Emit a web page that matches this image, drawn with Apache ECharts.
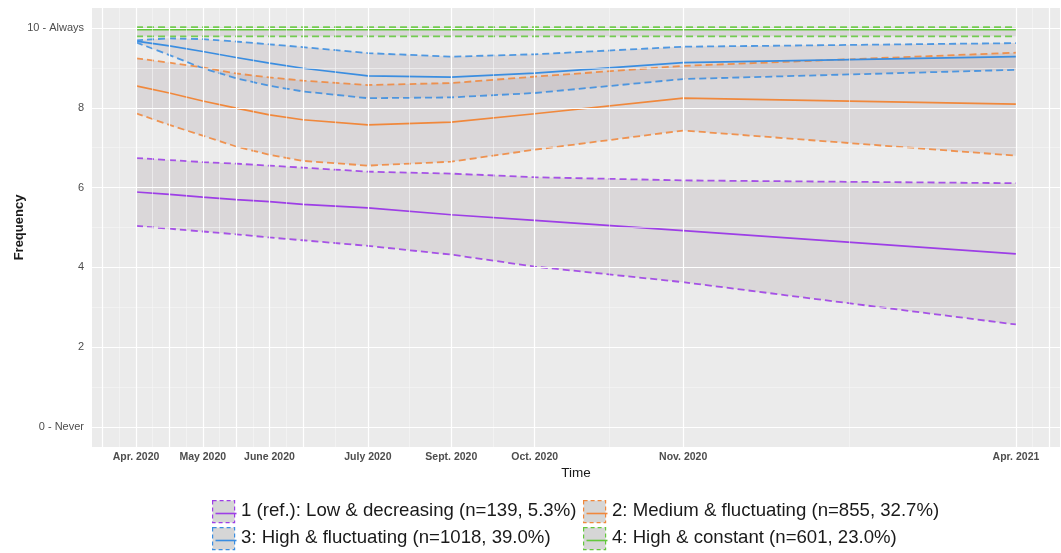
<!DOCTYPE html>
<html>
<head>
<meta charset="utf-8">
<script src="https://cdn.jsdelivr.net/npm/echarts@6/dist/echarts.min.js"></script>
<style>
html,body{margin:0;padding:0;background:#fff;}
#chart{width:1061px;height:553px;}
</style>
</head>
<body>
<div id="chart"></div>
<script>
// ---- data ----
const timePos = [0, 2, 4, 6, 8, 10, 13.9, 18.9, 23.9, 32.8, 52.75];
const timeLabels = ['Apr. 2020', '', 'May 2020', '', 'June 2020', '', 'July 2020', 'Sept. 2020', 'Oct. 2020', 'Nov. 2020', 'Apr. 2021'];
const yTickValues = [0, 2, 4, 6, 8, 10];
const yTickLabels = ['0 - Never', '2', '4', '6', '8', '10 - Always'];

const groupNames = [
  '1 (ref.): Low & decreasing (n=139, 5.3%)',
  '2: Medium & fluctuating (n=855, 32.7%)',
  '3: High & fluctuating (n=1018, 39.0%)',
  '4: High & constant (n=601, 23.0%)'
];
const groupColors = ['#9d3ee6', '#f0883c', '#3a8de0', '#63c73c'];

const g1Mean  = [5.89, 5.83, 5.76, 5.70, 5.65, 5.58, 5.49, 5.32, 5.18, 4.92, 4.34];
const g1Lower = [5.04, 4.97, 4.90, 4.83, 4.75, 4.68, 4.54, 4.32, 4.02, 3.63, 2.57];
const g1Upper = [6.74, 6.69, 6.64, 6.60, 6.55, 6.50, 6.40, 6.35, 6.26, 6.18, 6.11];

const g2Mean  = [8.55, 8.37, 8.17, 7.99, 7.82, 7.70, 7.57, 7.64, 7.85, 8.24, 8.09];
const g2Lower = [7.86, 7.57, 7.30, 7.03, 6.82, 6.67, 6.55, 6.65, 6.95, 7.43, 6.80];
const g2Upper = [9.24, 9.13, 9.01, 8.86, 8.76, 8.68, 8.57, 8.62, 8.78, 9.05, 9.38];

const g3Mean  = [9.67, 9.55, 9.41, 9.26, 9.12, 8.99, 8.80, 8.77, 8.87, 9.13, 9.28];
const g3Lower = [9.64, 9.32, 8.99, 8.74, 8.55, 8.41, 8.24, 8.26, 8.37, 8.72, 8.95];
const g3Upper = [9.69, 9.74, 9.72, 9.66, 9.59, 9.52, 9.37, 9.28, 9.34, 9.53, 9.62];

const g4Mean  = [9.96, 9.96, 9.96, 9.96, 9.96, 9.96, 9.96, 9.96, 9.96, 9.96, 9.96];
const g4Lower = [9.79, 9.79, 9.79, 9.79, 9.79, 9.79, 9.79, 9.79, 9.79, 9.79, 9.79];
const g4Upper = [10.02, 10.02, 10.02, 10.02, 10.02, 10.02, 10.02, 10.02, 10.02, 10.02, 10.02];

const groups = [
  {mean: g1Mean, lower: g1Lower, upper: g1Upper},
  {mean: g2Mean, lower: g2Lower, upper: g2Upper},
  {mean: g3Mean, lower: g3Lower, upper: g3Upper},
  {mean: g4Mean, lower: g4Lower, upper: g4Upper}
];

// gridlines (major at ticks, minor at midpoints)
const xMajorGrid = [-2].concat(timePos).concat([54.75]);
const xMinorGrid = [];
for (let i = 0; i < xMajorGrid.length - 1; i++) xMinorGrid.push((xMajorGrid[i] + xMajorGrid[i + 1]) / 2);
const yMajorGrid = [0, 2, 4, 6, 8, 10];
const yMinorGrid = [1, 3, 5, 7, 9];

// ---- build ----
const pairs = arr => arr.map((v, i) => [timePos[i], v]);
const series = [];

const gridLineData = [];
xMinorGrid.forEach(v => gridLineData.push({xAxis: v, lineStyle: {color: '#f7f7f7', width: 0.6, type: 'solid'}}));
yMinorGrid.forEach(v => gridLineData.push({yAxis: v, lineStyle: {color: '#f7f7f7', width: 0.6, type: 'solid'}}));
xMajorGrid.forEach(v => gridLineData.push({xAxis: v, lineStyle: {color: '#ffffff', width: 1.2, type: 'solid'}}));
yMajorGrid.forEach(v => gridLineData.push({yAxis: v, lineStyle: {color: '#ffffff', width: 1.2, type: 'solid'}}));

series.push({
  type: 'line', data: [], silent: true, z: 0,
  markLine: {silent: true, symbol: ['none', 'none'], label: {show: false}, animation: false, data: gridLineData}
});

// confidence ribbons drawn as polygons through the axis scales
groups.forEach((g, k) => {
  series.push({
    type: 'custom', silent: true, z: 1, clip: true,
    data: [[timePos[0], g.lower[0]]],
    renderItem: (params, api) => {
      const pts = [];
      for (let i = 0; i < timePos.length; i++) pts.push(api.coord([timePos[i], g.upper[i]]));
      for (let i = timePos.length - 1; i >= 0; i--) pts.push(api.coord([timePos[i], g.lower[i]]));
      return {type: 'polygon', shape: {points: pts}, style: {fill: 'rgba(175,163,170,0.27)'}};
    }
  });
});

groups.forEach((g, k) => {
  const c = groupColors[k];
  [g.lower, g.upper].forEach(arr => {
    series.push({
      type: 'line', data: pairs(arr), symbol: 'none', silent: true, z: 3,
      lineStyle: {color: c, width: 1.8, type: [7, 4], opacity: 0.88}
    });
  });
  series.push({
    type: 'line', data: pairs(g.mean), symbol: 'none', silent: true, z: 4,
    lineStyle: {color: c, width: 1.7, type: 'solid'}
  });
});

// legend via graphic
const legendGraphic = [];
const legendCols = [212, 583];
const legendRows = [500, 527];
groupNames.forEach((name, k) => {
  const x = legendCols[k % 2], y = legendRows[Math.floor(k / 2)];
  legendGraphic.push({
    type: 'rect', left: x, top: y,
    shape: {width: 22, height: 22},
    style: {fill: '#d6d6d6', stroke: groupColors[k], lineWidth: 1.2, lineDash: [4, 3]}
  });
  legendGraphic.push({
    type: 'line', left: x + 1, top: y + 11,
    shape: {x1: 0, y1: 0, x2: 21, y2: 0},
    style: {stroke: groupColors[k], lineWidth: 1.6}
  });
  legendGraphic.push({
    type: 'text', left: x + 29, top: y + 1.5,
    style: {text: name, fill: '#1a1a1a', font: '18.6px "Liberation Sans", Arial, sans-serif'}
  });
});

const chart = echarts.init(document.getElementById('chart'), null, {renderer: 'canvas'});
chart.setOption({
  animation: false,
  backgroundColor: '#ffffff',
  grid: {left: 92, right: 1, top: 8, bottom: 106, show: true, backgroundColor: '#ebebeb', borderWidth: 0,
         containLabel: false, outerBoundsMode: 'none'},
  xAxis: {
    type: 'value', min: -2.64, max: 55.39,
    name: 'Time', nameLocation: 'middle', nameGap: 19, nameMoveOverlap: false,
    nameTextStyle: {color: '#1a1a1a', fontSize: 13.5, fontFamily: '"Liberation Sans", Arial, sans-serif'},
    axisLine: {show: false},
    axisTick: {show: true, length: 4, lineStyle: {color: '#333333', width: 1}, customValues: timePos},
    axisLabel: {
      show: true, customValues: timePos, margin: 5,
      color: '#4d4d4d', fontSize: 10.5, fontWeight: 'bold', fontFamily: '"Liberation Sans", Arial, sans-serif',
      formatter: v => { const i = timePos.findIndex(t => Math.abs(t - v) < 1e-6); return i >= 0 ? timeLabels[i] : ''; }
    },
    splitLine: {show: false}
  },
  yAxis: {
    type: 'value', min: -0.5, max: 10.5,
    name: 'Frequency', nameLocation: 'middle', nameGap: 66, nameRotate: 90, nameMoveOverlap: false,
    nameTextStyle: {color: '#1a1a1a', fontSize: 13, fontWeight: 'bold', fontFamily: '"Liberation Sans", Arial, sans-serif'},
    axisLine: {show: false},
    axisTick: {show: true, length: 4, lineStyle: {color: '#333333', width: 1}, customValues: yTickValues},
    axisLabel: {
      show: true, customValues: yTickValues, margin: 8,
      color: '#4d4d4d', fontSize: 11, fontFamily: '"Liberation Sans", Arial, sans-serif',
      formatter: v => { const i = yTickValues.indexOf(v); return i >= 0 ? yTickLabels[i] : ''; }
    },
    splitLine: {show: false}
  },
  graphic: legendGraphic,
  series: series
});
</script>
</body>
</html>
